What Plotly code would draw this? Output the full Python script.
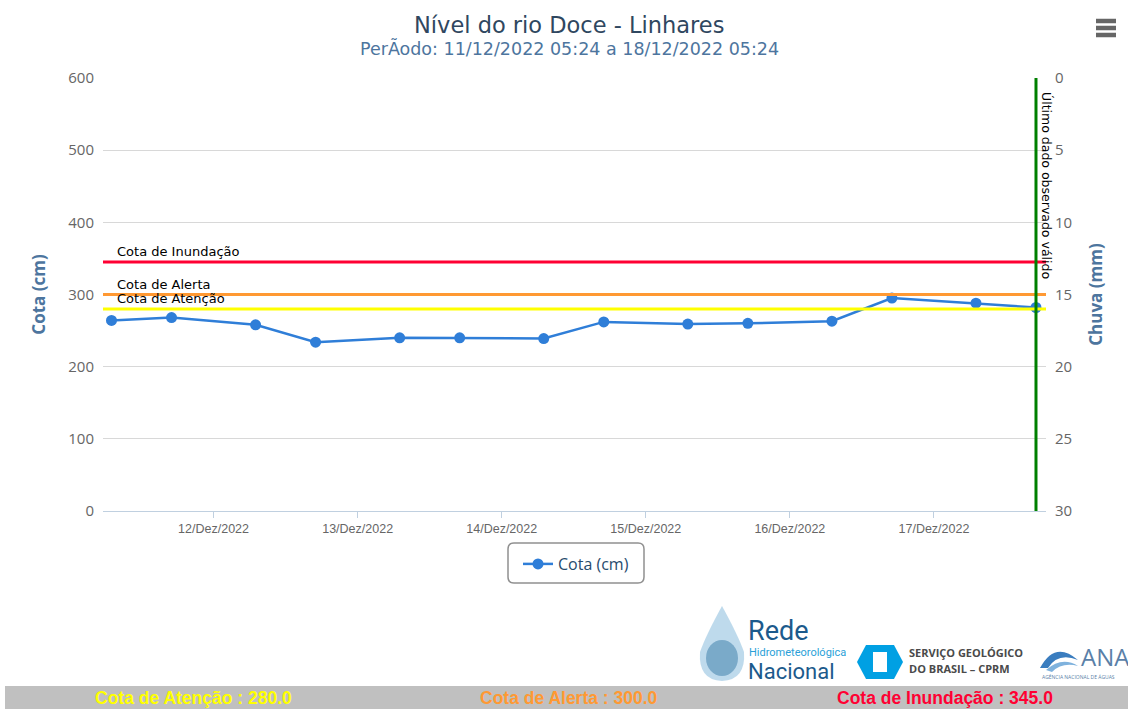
import plotly.graph_objects as go

# ---------------- data ----------------
dates = [
    "2022-12-11 07:00", "2022-12-11 17:00",
    "2022-12-12 07:00", "2022-12-12 17:00",
    "2022-12-13 07:00", "2022-12-13 17:00",
    "2022-12-14 07:00", "2022-12-14 17:00",
    "2022-12-15 07:00", "2022-12-15 17:00",
    "2022-12-16 07:00", "2022-12-16 17:00",
    "2022-12-17 07:00", "2022-12-17 17:00",
]
cota_cm = [264, 268, 258, 234, 240, 240, 239, 262, 259, 260, 263, 295, 288, 282]

threshold_names = ["Cota de Atenção", "Cota de Alerta", "Cota de Inundação"]
threshold_values = [280.0, 300.0, 345.0]
threshold_colors = ["#ffff00", "#ff9933", "#ff0033"]

tick_dates = ["2022-12-12", "2022-12-13", "2022-12-14", "2022-12-15", "2022-12-16", "2022-12-17"]
tick_labels = ["12/Dez/2022", "13/Dez/2022", "14/Dez/2022", "15/Dez/2022", "16/Dez/2022", "17/Dez/2022"]
last_valid = dates[-1]

W, H = 1128, 709
L, R, T, B = 103, 1046, 78, 511


def px(x):
    return (x - L) / (R - L)


def py(y):
    return (B - y) / (B - T)


fig = go.Figure()
fig.add_trace(go.Scatter(
    x=dates, y=cota_cm, name="Cota (cm)", mode="lines+markers",
    line=dict(color="#2f7ed8", width=2.5),
    marker=dict(color="#2f7ed8", size=11),
))
# empty rain series on the secondary axis
fig.add_trace(go.Scatter(x=[None], y=[None], yaxis="y2", showlegend=False, hoverinfo="skip"))

shapes = []
annotations = []

# threshold plot lines
for name, val, col in zip(threshold_names, threshold_values, threshold_colors):
    shapes.append(dict(type="line", xref="paper", yref="y", x0=0, x1=1, y0=val, y1=val,
                       line=dict(color=col, width=3), layer="above"))
    annotations.append(dict(text=name, xref="paper", yref="y", x=px(115), y=val,
                            xanchor="left", yanchor="bottom", yshift=1, showarrow=False,
                            font=dict(family="DejaVu Sans", size=13, color="#000000")))

# last valid observation line
shapes.append(dict(type="line", xref="x", yref="paper", x0=last_valid, x1=last_valid, y0=0, y1=1,
                   line=dict(color="#008000", width=3), layer="above"))
annotations.append(dict(text="Último dado observado válido", xref="x", yref="paper",
                        x=last_valid, y=py(90), xanchor="left", yanchor="top", xshift=1,
                        textangle=90, showarrow=False,
                        font=dict(family="DejaVu Sans", size=12.5, color="#000000")))

# titles
annotations.append(dict(text="Nível do rio Doce - Linhares", xref="paper", yref="paper",
                        x=px(569), y=py(25), xanchor="center", yanchor="middle", showarrow=False,
                        font=dict(family="DejaVu Sans", size=22.5, color="#2f4760")))
annotations.append(dict(text="PerÃodo: 11/12/2022 05:24 a 18/12/2022 05:24", xref="paper", yref="paper",
                        x=px(569), y=py(48), xanchor="center", yanchor="middle", showarrow=False,
                        font=dict(family="DejaVu Sans", size=17.5, color="#4d759e")))

# legend rounded border
x0, x1, y0, y1, r = 508, 644, 543, 583, 6
path = (f"M {px(x0 + r)} {py(y0)} L {px(x1 - r)} {py(y0)} Q {px(x1)} {py(y0)} {px(x1)} {py(y0 + r)} "
        f"L {px(x1)} {py(y1 - r)} Q {px(x1)} {py(y1)} {px(x1 - r)} {py(y1)} "
        f"L {px(x0 + r)} {py(y1)} Q {px(x0)} {py(y1)} {px(x0)} {py(y1 - r)} "
        f"L {px(x0)} {py(y0 + r)} Q {px(x0)} {py(y0)} {px(x0 + r)} {py(y0)} Z")
shapes.append(dict(type="path", xref="paper", yref="paper", path=path,
                   line=dict(color="#909090", width=1.5)))

# hamburger menu icon
for yc in (21, 28, 35):
    shapes.append(dict(type="line", xref="paper", yref="paper", x0=px(1096), x1=px(1116),
                       y0=py(yc), y1=py(yc), line=dict(color="#666666", width=4.5)))

# bottom threshold bar
shapes.append(dict(type="rect", xref="paper", yref="paper", x0=px(5), x1=px(1128), y0=py(686), y1=py(709),
                   fillcolor="#c0c0c0", line=dict(width=0), layer="below"))
bar_centers = [193, 569, 945]
for name, val, col, xc in zip(threshold_names, threshold_values, threshold_colors, bar_centers):
    annotations.append(dict(text=f"<b>{name} : {val:.1f}</b>", xref="paper", yref="paper",
                            x=px(xc), y=py(698), xanchor="center", yanchor="middle", showarrow=False,
                            font=dict(family="Liberation Sans", size=17.5, color=col)))

# logos (approximate)
drop = (f"M {px(722)} {py(606)} Q {px(706)} {py(635)} {px(700)} {py(652)} "
        f"Q {px(698)} {py(680)} {px(722)} {py(681)} Q {px(746)} {py(680)} {px(744)} {py(652)} "
        f"Q {px(738)} {py(635)} {px(722)} {py(606)} Z")
shapes.append(dict(type="path", xref="paper", yref="paper", path=drop,
                   fillcolor="rgba(70,150,200,0.35)", line=dict(width=0)))
shapes.append(dict(type="circle", xref="paper", yref="paper", x0=px(706), x1=px(738), y0=py(640), y1=py(676),
                   fillcolor="rgba(40,110,160,0.45)", line=dict(width=0)))
annotations.append(dict(text="Rede", xref="paper", yref="paper", x=px(746), y=py(631),
                        xanchor="left", yanchor="middle", showarrow=False, height=26,
                        font=dict(family="Roboto", size=27, color="#1c5a8c")))
annotations.append(dict(text="Hidrometeorológica", xref="paper", yref="paper", x=px(747), y=py(652),
                        xanchor="left", yanchor="middle", showarrow=False, height=11,
                        font=dict(family="Roboto", size=11, color="#2a9fd8")))
annotations.append(dict(text="Nacional", xref="paper", yref="paper", x=px(746), y=py(671),
                        xanchor="left", yanchor="middle", showarrow=False, height=20,
                        font=dict(family="Roboto", size=22, color="#1c5a8c")))
# CPRM
hexa = (f"M {px(866)} {py(645)} L {px(894)} {py(645)} L {px(903)} {py(662)} L {px(894)} {py(679)} "
        f"L {px(866)} {py(679)} L {px(857)} {py(662)} Z")
shapes.append(dict(type="path", xref="paper", yref="paper", path=hexa, fillcolor="#00a0e3", line=dict(width=0)))
shapes.append(dict(type="rect", xref="paper", yref="paper", x0=px(873), x1=px(887), y0=py(652), y1=py(672),
                   fillcolor="#ffffff", line=dict(width=0)))
annotations.append(dict(text="<b>SERVIÇO GEOLÓGICO</b>", xref="paper", yref="paper", x=px(907), y=py(652),
                        xanchor="left", yanchor="middle", showarrow=False,
                        font=dict(family="Open Sans", size=11, color="#4a4a4a")))
annotations.append(dict(text="<b>DO BRASIL – CPRM</b>", xref="paper", yref="paper", x=px(907), y=py(668),
                        xanchor="left", yanchor="middle", showarrow=False,
                        font=dict(family="Open Sans", size=11, color="#4a4a4a")))
# ANA
wave = (f"M {px(1040)} {py(668)} Q {px(1055)} {py(640)} {px(1078)} {py(660)} "
        f"Q {px(1058)} {py(652)} {px(1048)} {py(668)} Z")
shapes.append(dict(type="path", xref="paper", yref="paper", path=wave, fillcolor="#3a7dbf", line=dict(width=0)))
wave2 = (f"M {px(1046)} {py(670)} Q {px(1062)} {py(656)} {px(1078)} {py(666)} "
         f"Q {px(1062)} {py(662)} {px(1052)} {py(672)} Z")
shapes.append(dict(type="path", xref="paper", yref="paper", path=wave2, fillcolor="#7fb2dd", line=dict(width=0)))
annotations.append(dict(text="ANA", xref="paper", yref="paper", x=px(1079), y=py(656),
                        xanchor="left", yanchor="middle", showarrow=False,
                        font=dict(family="Open Sans", size=24, color="#5a7fa8")))
annotations.append(dict(text="AGÊNCIA NACIONAL DE ÁGUAS", xref="paper", yref="paper", x=px(1040), y=py(677),
                        xanchor="left", yanchor="middle", showarrow=False,
                        font=dict(family="Open Sans", size=5, color="#5a7fa8")))

fig.update_layout(
    width=W, height=H,
    margin=dict(l=L, r=W - R, t=T, b=H - B),
    paper_bgcolor="#ffffff", plot_bgcolor="#ffffff",
    font=dict(family="Open Sans", color="#666666"),
    showlegend=True,
    legend=dict(orientation="h", x=px(576), xanchor="center", y=py(547), yanchor="top",
                font=dict(family="Open Sans", size=16, color="#274b6d"),
                bgcolor="rgba(0,0,0,0)", borderwidth=0, itemwidth=30),
    xaxis=dict(
        type="date", range=["2022-12-11 05:35", "2022-12-17 18:40"],
        tickvals=tick_dates, ticktext=tick_labels,
        tickfont=dict(family="Liberation Sans", size=12.5, color="#666666"),
        showgrid=False, zeroline=False,
        showline=True, linecolor="#c0d0e0", linewidth=1,
        ticks="outside", ticklen=6, tickcolor="#c0d0e0",
    ),
    yaxis=dict(
        range=[0, 600], dtick=100, tickfont=dict(family="Open Sans", size=15, color="#666666"),
        gridcolor="#d8d8d8", gridwidth=1, zeroline=False, showline=False,
        title=dict(text="<b>Cota (cm)</b>", font=dict(family="Open Sans", size=17, color="#4d759e"), standoff=18),
        ticks="", ticklabelstandoff=8,
    ),
    yaxis2=dict(
        overlaying="y", side="right", range=[30, 0], dtick=5,
        tickfont=dict(family="Open Sans", size=15, color="#666666"),
        showgrid=False, zeroline=False, showline=False,
        title=dict(text="<b>Chuva (mm)</b>", font=dict(family="Open Sans", size=17, color="#4d759e"), standoff=18),
        ticklabelstandoff=8,
    ),
    shapes=shapes,
    annotations=annotations,
)

fig.write_html("out.html", config={"displayModeBar": False},
               post_script="document.body.style.margin='0';")
